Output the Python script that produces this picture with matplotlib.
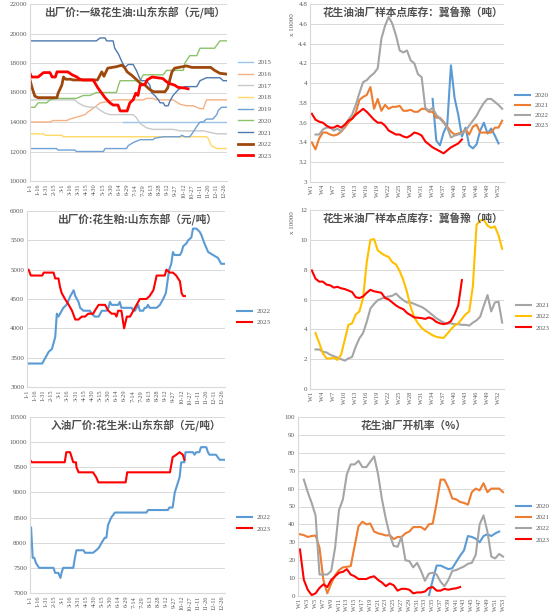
import matplotlib
matplotlib.use('Agg')
import matplotlib.pyplot as plt
import numpy as np

plt.rcParams['font.family'] = ['Liberation Serif', 'Noto Sans CJK SC']

# ---------------- data ----------------
# day-of-year axis (leap year labels), every 15 days
date_ticks = list(range(0, 361, 15))
date_labels = ['1-1', '1-16', '1-31', '2-15', '3-1', '3-16', '3-31', '4-15', '4-30',
               '5-15', '5-30', '6-14', '6-29', '7-14', '7-29', '8-13', '8-28', '9-12',
               '9-27', '10-12', '10-27', '11-11', '11-26', '12-11', '12-26']

# panel 1: peanut oil ex-factory price, (day, price) breakpoints
oil_2015 = [(173, 14000), (364, 14000)]
oil_2016 = [(0, 14000), (37, 14000), (43, 14100), (68, 14100), (74, 14200), (93, 14400),
            (102, 14500), (108, 14700), (120, 15000), (130, 15300), (148, 15400), (154, 15500),
            (210, 15500), (216, 15600), (228, 15600), (234, 15500), (265, 15500), (278, 15200),
            (290, 15100), (302, 15100), (309, 15000), (315, 14900), (321, 14900), (327, 15500),
            (364, 15500)]
oil_2017 = [(0, 15500), (83, 15500), (89, 15300), (99, 15100), (111, 15000), (123, 15000),
            (130, 14800), (139, 14600), (148, 14500), (191, 14500), (197, 14300), (204, 13900),
            (216, 13600), (228, 13500), (265, 13500), (278, 13400), (321, 13400), (333, 13300),
            (346, 13200), (364, 13200)]
oil_2018 = [(0, 13200), (25, 13200), (28, 13100), (59, 13100), (62, 13000), (327, 13000),
            (330, 12900), (336, 12400), (346, 12200), (364, 12200)]
oil_2019 = [(0, 12200), (49, 12200), (52, 12100), (83, 12100), (86, 12000), (136, 12000),
            (139, 12200), (179, 12200), (182, 12400), (191, 12600), (204, 12800), (228, 12800),
            (231, 12900), (247, 13000), (278, 13000), (281, 13100), (287, 13000), (296, 13000),
            (302, 13300), (309, 13700), (315, 14000), (321, 14000), (327, 14200), (339, 14200),
            (346, 14500), (349, 14800), (355, 15000), (364, 15000)]
oil_2020 = [(0, 15000), (9, 15000), (15, 15300), (31, 15300), (37, 15500), (49, 15600),
            (86, 15600), (99, 15800), (111, 15800), (123, 16000), (160, 16000), (164, 16500),
            (167, 16800), (204, 16800), (210, 17200), (247, 17200), (253, 17500), (284, 17500),
            (287, 18000), (296, 18500), (309, 18500), (315, 19000), (342, 19000), (352, 19500),
            (364, 19500)]
oil_2021 = [(0, 19500), (123, 19500), (130, 19700), (139, 19700), (142, 19500), (154, 19500),
            (157, 19000), (164, 18600), (170, 18100), (176, 17700), (182, 17900), (191, 17900),
            (197, 17500), (204, 16900), (207, 16800), (216, 16800), (222, 16500), (225, 16000),
            (231, 15800), (238, 15500), (241, 15300), (247, 15300), (250, 15100), (256, 15100),
            (259, 15400), (265, 15800), (275, 16200), (287, 16400), (309, 16400), (315, 16800),
            (327, 17000), (352, 17000), (358, 16800), (364, 16800)]
oil_2022 = [(0, 16850), (4, 16300), (9, 15750), (15, 15650), (50, 15650), (52, 15950),
            (59, 16500), (62, 17050), (66, 16900), (75, 16900), (80, 16850), (125, 16850),
            (133, 17400), (137, 17100), (144, 17650), (160, 17750), (170, 17850), (175, 17700),
            (180, 17400), (189, 17150), (198, 16850), (205, 16600), (213, 16500), (222, 16200),
            (229, 16050), (250, 16050), (255, 16300), (263, 17400), (268, 17650), (290, 17800),
            (300, 17700), (335, 17700), (342, 17500), (352, 17300), (364, 17250)]
oil_2023 = [(0, 17300), (3, 17050), (15, 17050), (25, 17350), (37, 17350), (41, 17050),
            (47, 17050), (50, 17400), (70, 17400), (78, 17200), (87, 17050), (92, 16900),
            (98, 16850), (117, 16850), (126, 16300), (133, 15950), (139, 15650), (148, 15300),
            (154, 15150), (163, 15150), (167, 14750), (180, 14750), (185, 15300), (191, 15500),
            (196, 15950), (200, 15800), (204, 16500), (213, 16550), (217, 16850), (226, 17050),
            (246, 16950), (254, 16700), (259, 16600), (268, 16500), (274, 16350), (287, 16300),
            (293, 16250)]

# panel 3: peanut meal ex-factory price
meal_2022 = [(0, 3400), (28, 3400), (34, 3500), (40, 3600), (46, 3650), (49, 3750), (52, 3850),
             (55, 4250), (58, 4200), (61, 4250), (67, 4350), (73, 4400), (80, 4550), (86, 4650),
             (89, 4550), (95, 4450), (98, 4350), (104, 4300), (116, 4300), (119, 4250), (125, 4200),
             (132, 4200), (138, 4300), (147, 4300), (150, 4350), (153, 4450), (156, 4400),
             (168, 4400), (171, 4450), (174, 4350), (193, 4350), (196, 4300), (199, 4300),
             (202, 4350), (205, 4400), (208, 4300), (214, 4300), (217, 4350), (220, 4350),
             (223, 4400), (226, 4350), (239, 4350), (245, 4400), (251, 4500), (256, 4600),
             (262, 5000), (266, 5100), (269, 5300), (272, 5250), (282, 5250), (285, 5300),
             (288, 5400), (294, 5450), (297, 5500), (303, 5550), (306, 5700), (312, 5700),
             (318, 5650), (321, 5600), (327, 5450), (334, 5300), (343, 5250), (352, 5200),
             (358, 5100), (364, 5100)]
meal_2023 = [(0, 5000), (3, 5000), (7, 4900), (28, 4900), (31, 4950), (49, 4950), (52, 4850),
             (58, 4850), (61, 4700), (64, 4600), (70, 4500), (77, 4400), (83, 4300), (89, 4150),
             (95, 4150), (101, 4200), (107, 4200), (113, 4250), (122, 4250), (125, 4300),
             (132, 4400), (144, 4400), (150, 4300), (156, 4250), (162, 4250), (165, 4200),
             (168, 4300), (174, 4300), (179, 4000), (184, 4200), (190, 4200), (196, 4300),
             (202, 4400), (208, 4500), (220, 4500), (226, 4550), (233, 4650), (239, 4900),
             (254, 4900), (257, 5000), (263, 4950), (269, 4950), (275, 4900), (282, 4800),
             (285, 4600), (288, 4550), (291, 4550)]

# panel 5: peanut kernel purchase price
kernel_2022 = [(2, 8300), (5, 7700), (8, 7700), (11, 7600), (14, 7550), (17, 7500), (44, 7500),
               (47, 7400), (53, 7400), (57, 7300), (59, 7400), (62, 7500), (81, 7500), (84, 7700),
               (87, 7850), (100, 7850), (103, 7800), (118, 7800), (124, 7850), (129, 7900),
               (134, 8000), (140, 8100), (143, 8100), (146, 8350), (152, 8500), (159, 8600),
               (218, 8600), (221, 8650), (258, 8650), (261, 8700), (267, 8700), (271, 9000),
               (280, 9300), (283, 9600), (289, 9600), (291, 9800), (305, 9800), (308, 9750),
               (311, 9800), (317, 9800), (320, 9900), (330, 9900), (333, 9800), (336, 9750),
               (348, 9750), (355, 9650), (364, 9650)]
kernel_2023 = [(0, 9650), (3, 9600), (65, 9600), (68, 9800), (75, 9800), (78, 9700), (81, 9600),
               (86, 9600), (87, 9500), (91, 9400), (118, 9400), (124, 9300), (128, 9200),
               (179, 9200), (182, 9400), (262, 9400), (267, 9700), (274, 9750), (280, 9800),
               (286, 9750), (289, 9650)]

# weekly series
week_labels_3 = ['W%d' % w for w in range(1, 54, 3)]
week_labels_2 = ['W%d' % w for w in range(1, 54, 2)]

# panel 2: peanut oil stocks (x 10000 t), first week of each series
stock_oil_2020_start = 34
stock_oil_2020 = [3.84, 3.42, 3.37, 3.5, 3.58, 4.18, 3.85, 3.68, 3.46, 3.55, 3.37, 3.34, 3.38,
                  3.52, 3.6, 3.49, 3.54, 3.47, 3.39]
stock_oil_2021_start = 1
stock_oil_2021 = [3.4, 3.33, 3.44, 3.5, 3.5, 3.48, 3.47, 3.48, 3.51, 3.55, 3.6, 3.64, 3.7, 3.83,
                  3.86, 3.88, 3.96, 3.74, 3.84, 3.72, 3.78, 3.74, 3.76, 3.76, 3.77, 3.72, 3.72,
                  3.73, 3.71, 3.71, 3.74, 3.74, 3.71, 3.71, 3.65, 3.65, 3.61, 3.56, 3.51, 3.48,
                  3.49, 3.5, 3.53, 3.48, 3.56, 3.58, 3.5, 3.5, 3.5, 3.5, 3.55, 3.55, 3.62]
stock_oil_2022_start = 2
stock_oil_2022 = [3.48, 3.48, 3.53, 3.55, 3.55, 3.52, 3.54, 3.51, 3.57, 3.63, 3.68, 3.78, 3.9,
                  4.01, 4.03, 4.07, 4.1, 4.15, 4.45, 4.58, 4.67, 4.6, 4.48, 4.33, 4.31, 4.33,
                  4.23, 4.2, 4.09, 4.06, 3.75, 3.72, 3.75, 3.68, 3.64, 3.6, 3.55, 3.45, 3.47,
                  3.48, 3.49, 3.52, 3.57, 3.62, 3.67, 3.74, 3.8, 3.84, 3.84, 3.81, 3.78, 3.74]
stock_oil_2023_start = 1
stock_oil_2023 = [3.69, 3.63, 3.61, 3.6, 3.57, 3.55, 3.55, 3.57, 3.55, 3.58, 3.62, 3.64, 3.68,
                  3.71, 3.74, 3.71, 3.67, 3.63, 3.6, 3.6, 3.57, 3.52, 3.5, 3.48, 3.48, 3.46,
                  3.45, 3.47, 3.5, 3.49, 3.47, 3.41, 3.38, 3.35, 3.33, 3.31, 3.29, 3.32, 3.35,
                  3.37, 3.39, 3.43]

# panel 4: peanut kernel stocks (x 10000 t)
stock_kernel_2021_start = 2
stock_kernel_2021 = [2.65, 2.65, 2.5, 2.45, 2.3, 2.2, 2.1, 2.0, 1.9, 2.05, 2.15, 2.85, 3.4,
                     3.75, 4.5, 5.4, 5.7, 5.95, 6.05, 6.15, 6.2, 6.25, 6.4, 6.15, 5.95, 5.8,
                     5.8, 5.7, 5.6, 5.5, 5.35, 5.15, 4.95, 4.75, 4.6, 4.45, 4.4, 4.4, 4.35,
                     4.35, 4.3, 4.3, 4.25, 4.45, 4.6, 4.85, 5.6, 6.3, 5.2, 5.8, 5.85, 4.45]
stock_kernel_2022_start = 2
stock_kernel_2022 = [3.75, 3.1, 2.4, 2.05, 2.05, 2.1, 1.95, 2.3, 3.3, 4.3, 4.4, 5.0, 5.2, 6.1,
                     8.5, 10.0, 10.05, 9.3, 9.1, 8.95, 8.85, 8.5, 8.35, 7.9, 7.3, 6.5, 5.5, 4.8,
                     4.4, 4.1, 3.9, 3.75, 3.6, 3.5, 3.45, 3.42, 3.7, 4.0, 4.25, 4.4, 4.7, 5.0,
                     5.2, 6.9, 11.0, 11.3, 11.35, 10.95, 10.8, 10.9, 10.3, 9.4]
stock_kernel_2023_start = 1
stock_kernel_2023 = [7.95, 7.4, 7.2, 7.2, 7.0, 6.95, 6.8, 6.85, 6.75, 6.7, 6.6, 6.5, 6.15, 6.1,
                     6.2, 6.45, 6.65, 6.55, 6.5, 6.45, 6.1, 6.0, 5.8, 5.6, 5.45, 5.35, 5.1,
                     4.95, 4.8, 4.78, 4.75, 4.7, 4.8, 4.7, 4.5, 4.4, 4.35, 4.4, 4.55, 5.0, 5.6,
                     7.3]

# panel 6: crushing plant operating rate (%)
rate_2020_start = 34
rate_2020 = [0, 9, 17, 17, 16, 15, 15.5, 19, 22.5, 25.5, 33.5, 33, 32, 30, 33.5, 34.5, 33.5,
             35, 36]
rate_2021_start = 1
rate_2021 = [34.5, 34, 33, 33.5, 33.8, 27, 9, 1.5, 7, 11.5, 14.5, 16, 16.3, 16.7, 28, 39, 41.5,
             40, 40.5, 36, 35, 34.5, 33.8, 34, 31.8, 33, 33, 35, 36, 38.5, 38.5, 38.5, 37, 40,
             40.5, 52, 65, 65, 60.5, 54.5, 54, 52.5, 52, 51, 58, 60, 59, 63, 58, 60, 60, 60, 58]
rate_2022_start = 2
rate_2022 = [65, 58, 52, 45, 12, 12, 12, 14, 27, 48, 54, 68, 73.5, 73.5, 75.5, 72, 72, 75, 78,
             68, 54, 43, 34, 28, 27.5, 33, 20, 19.5, 16, 18.5, 14, 8.5, 12.5, 13, 12, 8, 5.5,
             9, 14, 14.5, 15.5, 16.5, 18, 18.5, 23, 40, 45, 36, 22, 21, 23.5, 22]
rate_2023_start = 1
rate_2023 = [26, 9, 3.5, 0.5, 1.5, 4.5, 6.5, 5, 9, 11, 13, 13.5, 15, 12, 11, 9.5, 9.5, 9.5, 10.5,
             11, 9, 7.5, 5.5, 7, 6, 3, 4, 4, 3.5, 1.5, 2, 2, 2.5, 4.5, 5, 3, 3, 4, 3.5, 4, 4.3, 5]

# ---------------- styling ----------------
W, H = 554, 615
fig = plt.figure(figsize=(W / 100, H / 100), dpi=100)
fig.patch.set_facecolor('white')

GRID = '#D9D9D9'
TXT = '#595959'
CJK = ['Noto Sans CJK SC', 'DejaVu Sans']


def make_ax(l, t, r, b):
    ax = fig.add_axes([l / W, 1 - b / H, (r - l) / W, (b - t) / H])
    for s in ['top', 'right']:
        ax.spines[s].set_visible(False)
    for s in ['left', 'bottom']:
        ax.spines[s].set_color(GRID)
        ax.spines[s].set_linewidth(0.8)
    ax.grid(axis='y', color=GRID, linewidth=0.7)
    ax.set_axisbelow(True)
    ax.tick_params(length=0, labelsize=5, colors=TXT, pad=2)
    return ax


def title(x, y, s):
    fig.text(x / W, 1 - y / H, s, ha='center', va='center', fontsize=7.7,
             color='#505050', family=CJK, fontweight='bold')


def legend(ax, x, y, spacing):
    ax.legend(loc='upper left', bbox_to_anchor=(x / W, 1 - y / H),
              bbox_transform=fig.transFigure, frameon=False, fontsize=5,
              borderpad=0, borderaxespad=0, handlelength=2.2, handletextpad=0.6,
              labelspacing=spacing, labelcolor=TXT)


def steps(series):
    d, v = zip(*series)
    return list(d), list(v)


def weekly(start, vals):
    return np.arange(start, start + len(vals)), vals


def date_axis(ax):
    ax.set_xlim(0, 365)
    ax.set_xticks(date_ticks)
    ax.set_xticklabels(date_labels, rotation=90, fontsize=4.6)


def week_axis(ax, step, labels):
    ax.set_xlim(0.5, 53.5)
    ax.set_xticks(range(1, 54, step))
    ax.set_xticklabels(labels, rotation=90, fontsize=4.6)


# panel 1
ax1 = make_ax(30, 4, 227, 181)
thin = [('2015', oil_2015, '#9DC3E6'), ('2016', oil_2016, '#F4B183'),
        ('2017', oil_2017, '#C9C9C9'), ('2018', oil_2018, '#FFD966'),
        ('2019', oil_2019, '#6FA1D6'), ('2020', oil_2020, '#8CC36A'),
        ('2021', oil_2021, '#4E79B0')]
for lab, s, c in thin:
    ax1.plot(*steps(s), color=c, lw=1.0, label=lab)
ax1.plot(*steps(oil_2022), color='#9E480E', lw=2.0, label='2022')
ax1.plot(*steps(oil_2023), color='#FF0000', lw=2.0, label='2023')
ax1.set_ylim(10000, 22000)
ax1.set_yticks(range(10000, 22001, 2000))
date_axis(ax1)
legend(ax1, 238, 59.5, 0.84)
title(135, 13, '出厂价:一级花生油:山东东部（元/吨）')

# panel 2
ax2 = make_ax(310, 4, 504, 182)
for lab, st, v, c in [('2020', stock_oil_2020_start, stock_oil_2020, '#5B9BD5'),
                      ('2021', stock_oil_2021_start, stock_oil_2021, '#ED7D31'),
                      ('2022', stock_oil_2022_start, stock_oil_2022, '#A5A5A5'),
                      ('2023', stock_oil_2023_start, stock_oil_2023, '#FF0000')]:
    ax2.plot(*weekly(st, v), color=c, lw=1.5, label=lab)
ax2.set_ylim(3, 4.8)
ax2.set_yticks(np.arange(3, 4.81, 0.2))
ax2.set_yticklabels(['3', '3.2', '3.4', '3.6', '3.8', '4', '4.2', '4.4', '4.6', '4.8'])
week_axis(ax2, 3, week_labels_3)
legend(ax2, 515, 92.5, 0.6)
fig.text(292 / W, 1 - 25 / H, 'x 10000', rotation=90, ha='center', va='center',
         fontsize=5, color=TXT)
title(413, 13, '花生油油厂样本点库存：冀鲁豫（吨）')

# panel 3
ax3 = make_ax(27, 211, 225, 387)
ax3.plot(*steps(meal_2022), color='#5B9BD5', lw=1.5, label='2022')
ax3.plot(*steps(meal_2023), color='#FF0000', lw=1.5, label='2023')
ax3.set_ylim(3000, 6000)
ax3.set_yticks(range(3000, 6001, 500))
date_axis(ax3)
legend(ax3, 237, 308.5, 0.7)
title(137, 220, '出厂价:花生粕:山东东部（元/吨）')

# panel 4
ax4 = make_ax(310, 210, 504, 389)
for lab, st, v, c in [('2021', stock_kernel_2021_start, stock_kernel_2021, '#A5A5A5'),
                      ('2022', stock_kernel_2022_start, stock_kernel_2022, '#FFC000'),
                      ('2023', stock_kernel_2023_start, stock_kernel_2023, '#FF0000')]:
    ax4.plot(*weekly(st, v), color=c, lw=1.5, label=lab)
ax4.set_ylim(0, 12)
ax4.set_yticks(range(0, 13, 2))
week_axis(ax4, 3, week_labels_3)
legend(ax4, 516, 302.5, 0.75)
fig.text(292 / W, 1 - 223 / H, 'x 10000', rotation=90, ha='center', va='center',
         fontsize=5, color=TXT)
title(413, 219, '花生米油厂样本点库存：冀鲁豫（吨）')

# panel 5
ax5 = make_ax(30, 417, 225, 593)
ax5.plot(*steps(kernel_2022), color='#5B9BD5', lw=1.5, label='2022')
ax5.plot(*steps(kernel_2023), color='#FF0000', lw=1.5, label='2023')
ax5.set_ylim(7000, 10500)
ax5.set_yticks(range(7000, 10501, 500))
date_axis(ax5)
legend(ax5, 237, 514.5, 0.78)
title(136, 426, '入油厂价:花生米:山东东部（元/吨）')

# panel 6
ax6 = make_ax(298, 417, 505, 596)
for lab, st, v, c in [('2020', rate_2020_start, rate_2020, '#5B9BD5'),
                      ('2021', rate_2021_start, rate_2021, '#ED7D31'),
                      ('2022', rate_2022_start, rate_2022, '#A5A5A5'),
                      ('2023', rate_2023_start, rate_2023, '#FF0000')]:
    ax6.plot(*weekly(st, v), color=c, lw=1.5, label=lab)
ax6.set_ylim(0, 100)
ax6.set_yticks(range(0, 101, 10))
week_axis(ax6, 2, week_labels_2)
legend(ax6, 516, 503.5, 0.75)
title(414, 426, '花生油厂开机率（%）')

fig.savefig('out.png', dpi=100)
